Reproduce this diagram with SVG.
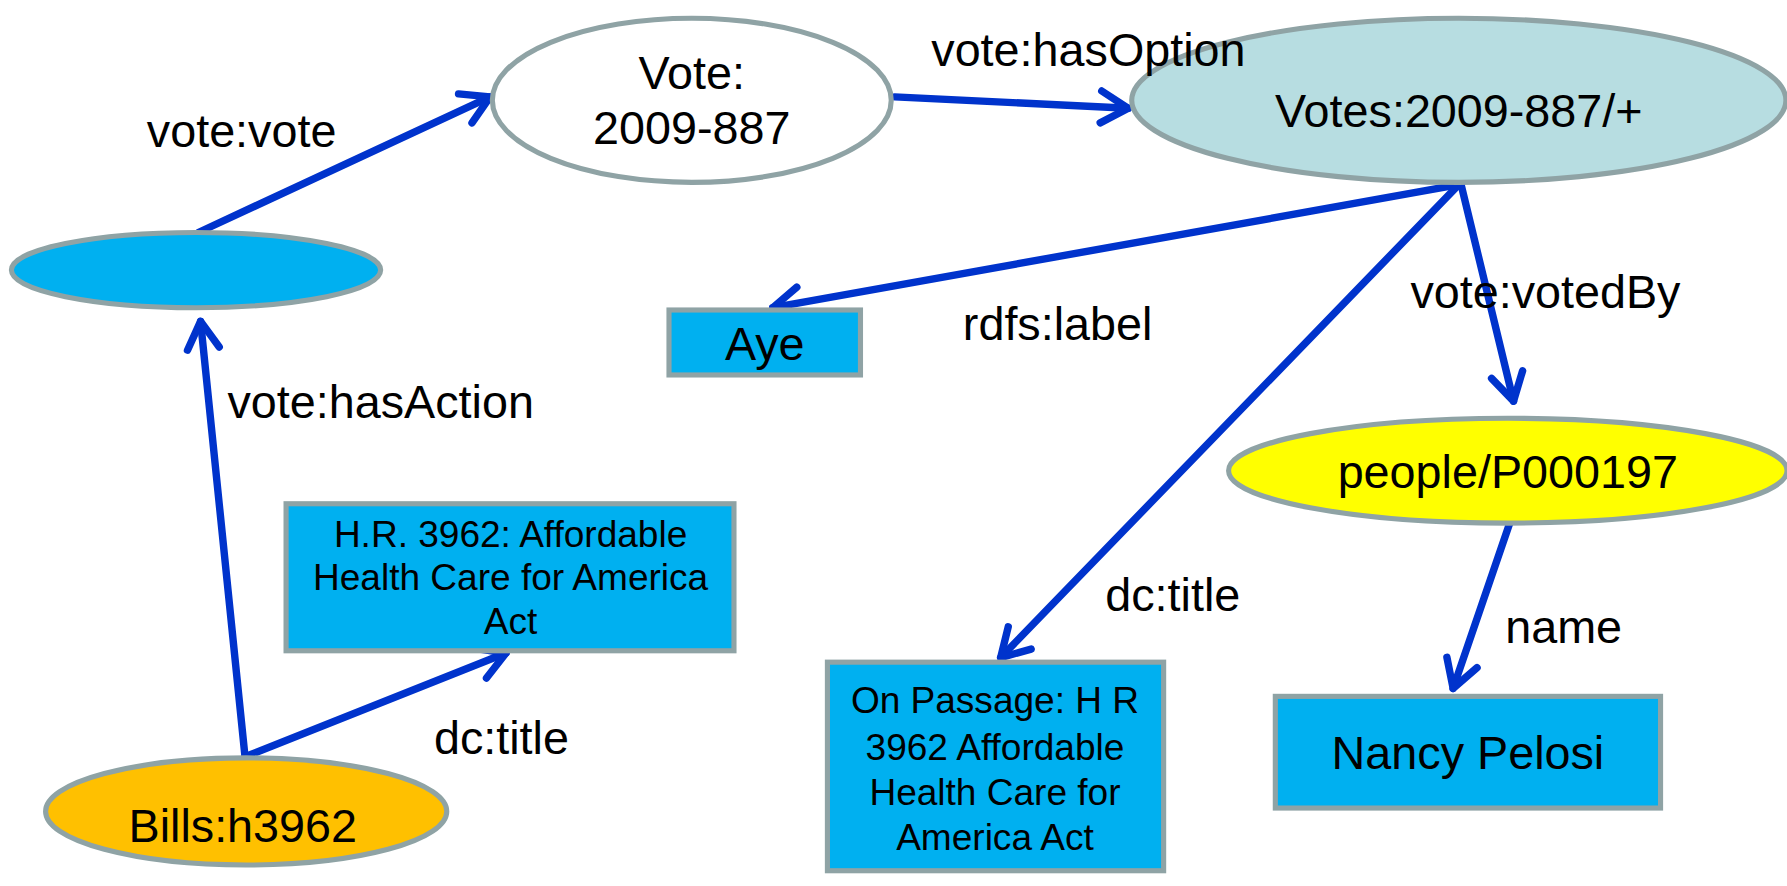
<svg xmlns="http://www.w3.org/2000/svg" width="1787" height="886" viewBox="0 0 1787 886">
<defs>
<style>
.t{font-family:"Liberation Sans",Arial,sans-serif;fill:#000;text-anchor:middle}
.b{font-size:41px}
.s{font-size:32.5px}
.n{stroke:#8FA3A5;stroke-width:4.5}
.c{stroke:#0033CC;stroke-width:6.5;fill:none;stroke-linecap:round}
</style>
<marker id="a" viewBox="-30 -20 40 40" refX="0" refY="0" markerWidth="40" markerHeight="40" markerUnits="userSpaceOnUse" orient="auto" overflow="visible">
<path d="M-24,-14 L0,0 L-24,14" fill="none" stroke="#0033CC" stroke-width="6.5" stroke-linecap="round" stroke-linejoin="round"/>
</marker>
</defs>
<rect width="1787" height="886" fill="#fff"/>
<g transform="scale(1.1397)">
<g id="connectors">
<line class="c" x1="174" y1="204" x2="430" y2="85" marker-end="url(#a)"/>
<line class="c" x1="785" y1="85" x2="990" y2="95" marker-end="url(#a)"/>
<line class="c" x1="1280" y1="162" x2="678" y2="270" marker-end="url(#a)"/>
<line class="c" x1="1280" y1="162" x2="878" y2="577" marker-end="url(#a)"/>
<line class="c" x1="1282" y1="162" x2="1328" y2="352" marker-end="url(#a)"/>
<line class="c" x1="1325" y1="458" x2="1275" y2="604" marker-end="url(#a)"/>
<line class="c" x1="215" y1="664" x2="176" y2="282" marker-end="url(#a)"/>
<line class="c" x1="215" y1="664" x2="444" y2="573" marker-end="url(#a)"/>
</g>
<g id="vote">
<ellipse class="n" cx="607" cy="88" rx="175" ry="72" fill="#fff"/>
<text class="t b" x="607" y="78">Vote:</text>
<text class="t b" x="607" y="126">2009-887</text>
</g>
<g id="votes">
<ellipse class="n" cx="1280" cy="88" rx="287" ry="72" fill="#B7DDE1"/>
<text class="t b" x="1280" y="111">Votes:2009-887/+</text>
</g>
<g id="blank">
<ellipse class="n" cx="172" cy="237" rx="162" ry="33" fill="#00B0F0"/>
</g>
<g id="aye">
<rect class="n" x="587" y="272" width="168" height="57" fill="#00B0F0"/>
<text class="t b" x="671" y="316">Aye</text>
</g>
<g id="people">
<ellipse class="n" cx="1323" cy="413" rx="245" ry="46" fill="#FFFF00"/>
<text class="t b" x="1323" y="428">people/P000197</text>
</g>
<g id="hr">
<rect class="n" x="251" y="442" width="393" height="129" fill="#00B0F0"/>
<text class="t s" x="448" y="480">H.R. 3962: Affordable</text>
<text class="t s" x="448" y="518">Health Care for America</text>
<text class="t s" x="448" y="556">Act</text>
</g>
<g id="passage">
<rect class="n" x="726" y="581" width="295" height="183" fill="#00B0F0"/>
<text class="t s" x="873" y="626">On Passage: H R</text>
<text class="t s" x="873" y="667">3962 Affordable</text>
<text class="t s" x="873" y="706">Health Care for</text>
<text class="t s" x="873" y="746">America Act</text>
</g>
<g id="nancy">
<rect class="n" x="1119" y="611" width="338" height="98" fill="#00B0F0"/>
<text class="t b" x="1288" y="675">Nancy Pelosi</text>
</g>
<g id="bills">
<ellipse class="n" cx="216" cy="712" rx="176" ry="47" fill="#FFC000"/>
<text class="t b" x="213" y="739">Bills:h3962</text>
</g>
<g id="connector-labels">
<text class="t b" x="212" y="129">vote:vote</text>
<text class="t b" x="955" y="58">vote:hasOption</text>
<text class="t b" x="928" y="298">rdfs:label</text>
<text class="t b" x="1356" y="270">vote:votedBy</text>
<text class="t b" x="334" y="367">vote:hasAction</text>
<text class="t b" x="440" y="662">dc:title</text>
<text class="t b" x="1029" y="536">dc:title</text>
<text class="t b" x="1372" y="564">name</text>
</g>
</g>
</svg>
